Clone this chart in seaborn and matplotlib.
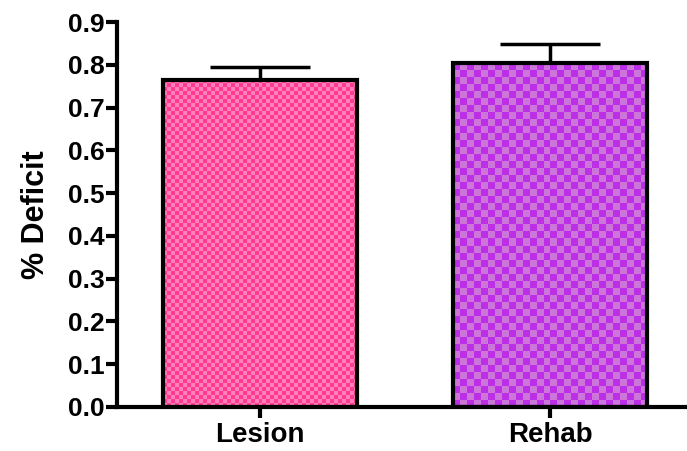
import numpy as np
import pandas as pd
import matplotlib
matplotlib.use('Agg')
import matplotlib.pyplot as plt
import seaborn as sns

# data
groups = ['Lesion', 'Rehab']
means = [0.765, 0.803]
sem = [0.030, 0.046]

# checker colours (dark, light) and cell size in px
checker_cols = [('#ff3a95', '#ff80b6'), ('#bd2fe6', '#cc76da')]
cell_px = [4, 7]

sns.set_style('ticks')
plt.rcParams['font.family'] = ['Liberation Sans', 'DejaVu Sans']
plt.rcParams['font.weight'] = 'bold'
for key in ['text.color', 'axes.labelcolor', 'xtick.color', 'ytick.color']:
    plt.rcParams[key] = 'black'

fig = plt.figure(figsize=(6.87, 4.51), dpi=100)
ax = fig.add_axes([117 / 687, 44 / 451, 570 / 687, 385 / 451])

df = pd.DataFrame({'group': groups, 'deficit': means})
sns.barplot(data=df, x='group', y='deficit', hue='group', palette=[c[0] for c in checker_cols],
            errorbar=None, width=0.67, legend=False, ax=ax)

# upward-only error bars
ax.errorbar(range(len(groups)), means, yerr=[[0] * len(sem), sem], fmt='none',
            ecolor='black', elinewidth=2.5, capsize=36, capthick=2.5, zorder=1)

ax.set_xlim(-0.493, 1.472)
ax.set_ylim(0, 0.9)

# checkerboard fill clipped to each bar
fig.canvas.draw()
for patch, (c1, c2), cp in zip(ax.patches, checker_cols, cell_px):
    x0, y0 = patch.get_x(), patch.get_y()
    w, h = patch.get_width(), patch.get_height()
    p0 = ax.transData.transform((x0, y0))
    p1 = ax.transData.transform((x0 + w, y0 + h))
    nx = max(1, int(round(abs(p1[0] - p0[0]) / cp)))
    ny = max(1, int(round(abs(p1[1] - p0[1]) / cp)))
    board = (np.add.outer(np.arange(ny), np.arange(nx)) % 2).astype(float)
    cmap = matplotlib.colors.ListedColormap([c1, c2])
    im = ax.imshow(board, cmap=cmap, interpolation='nearest', aspect='auto',
                   extent=[x0, x0 + w, y0, y0 + h], zorder=2)
    im.set_clip_path(patch)
    patch.set_facecolor('none')
    patch.set_edgecolor('black')
    patch.set_linewidth(3)
    patch.set_zorder(3)

ax.set_xlim(-0.493, 1.472)
ax.set_ylim(0, 0.9)

sns.despine(ax=ax)
for s in ['left', 'bottom']:
    ax.spines[s].set_linewidth(3)
    ax.spines[s].set_color('black')
    ax.spines[s].set_zorder(4)

ax.set_yticks(np.arange(0, 0.91, 0.1))
ax.set_yticklabels([f'{v:.1f}' for v in np.arange(0, 0.91, 0.1)])
ax.tick_params(axis='y', length=8, width=3, labelsize=19, pad=1)
ax.tick_params(axis='x', length=8, width=3, labelsize=20, pad=3)
for lab in ax.get_xticklabels() + ax.get_yticklabels():
    lab.set_fontweight('bold')

ax.set_xlabel('')
ax.set_ylabel('% Deficit', fontsize=22, fontweight='bold', labelpad=12)

fig.savefig('out.png', dpi=100, facecolor='white')
